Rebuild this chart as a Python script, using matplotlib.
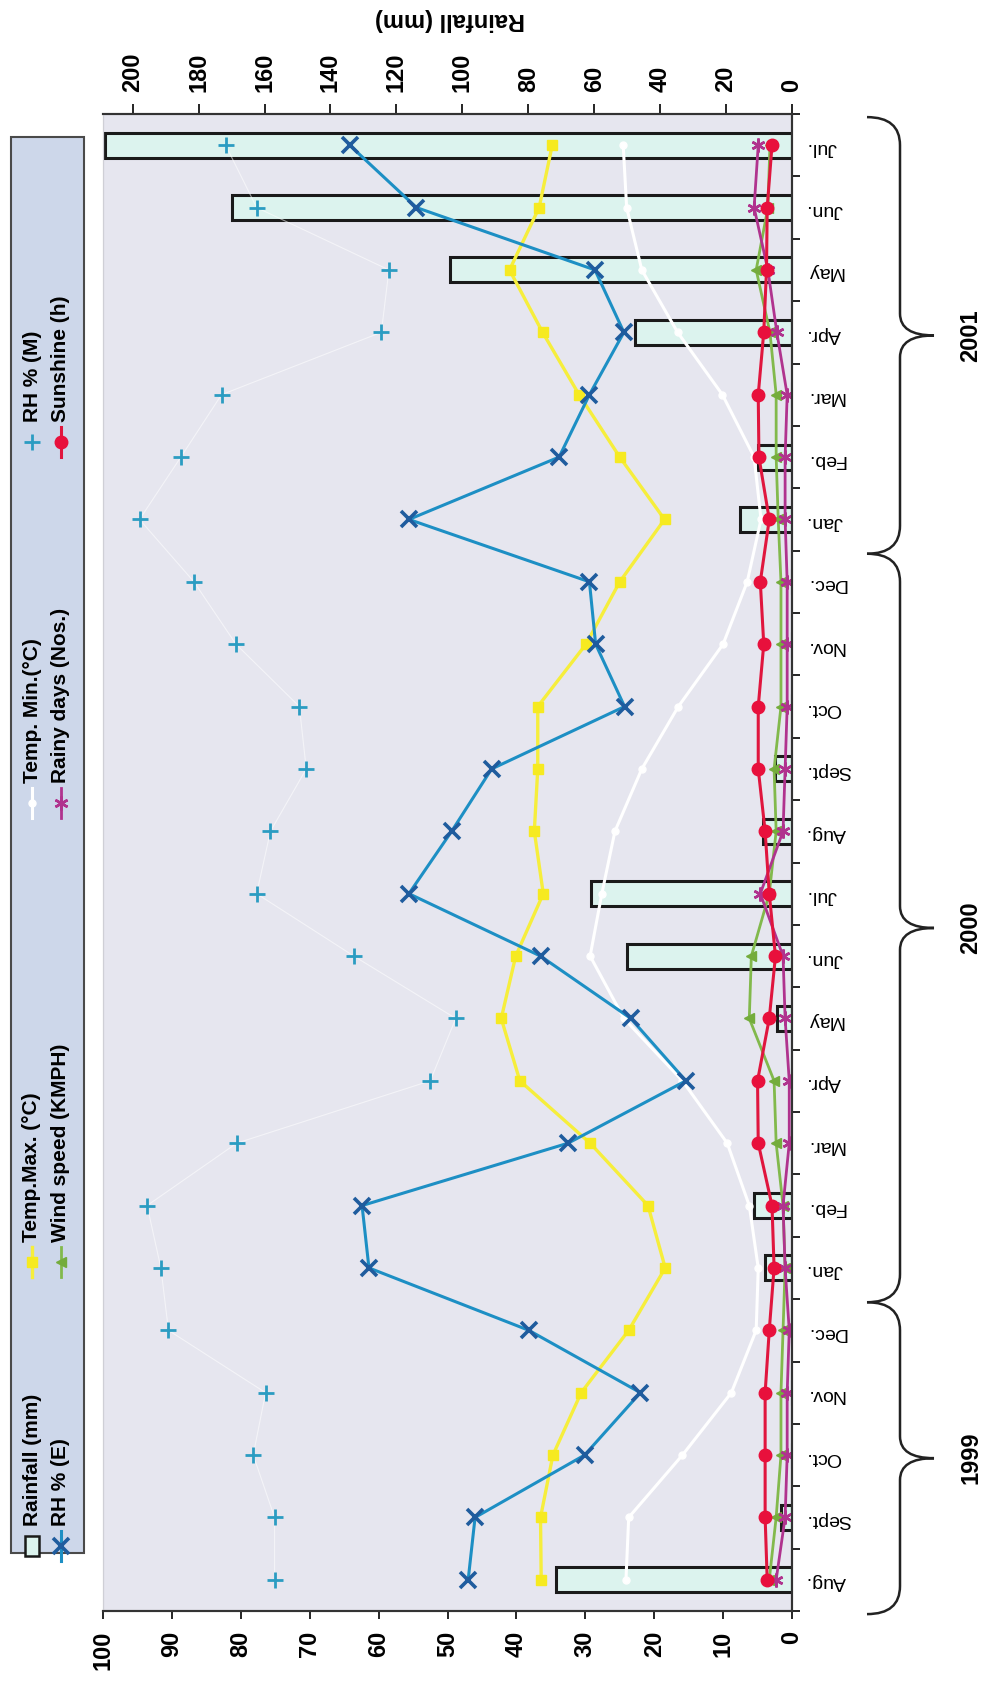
import matplotlib
matplotlib.use('Agg')
import matplotlib.pyplot as plt
import matplotlib.transforms as mtransforms
from matplotlib.path import Path
from matplotlib.patches import PathPatch, Rectangle
import numpy as np

plt.rcParams['font.family'] = ['Liberation Sans', 'DejaVu Sans']

# months Aug 1999 .. Jul 2001
months = ['Aug.', 'Sept.', 'Oct.', 'Nov.', 'Dec.',
          'Jan.', 'Feb.', 'Mar.', 'Apr.', 'May', 'Jun.', 'Jul.',
          'Aug.', 'Sept.', 'Oct.', 'Nov.', 'Dec.',
          'Jan.', 'Feb.', 'Mar.', 'Apr.', 'May', 'Jun.', 'Jul.']
years = ['1999', '2000', '2001']
year_first = [0, 5, 17]
year_last = [4, 16, 23]

rainfall = [71.7, 3.4, 0, 0, 0, 8.2, 11.4, 0, 0, 4.4, 49.9, 61.0,
            8.9, 5.1, 0, 0, 0, 15.7, 10.3, 0, 47.5, 103.8, 170.0, 208.5]
rh_e = [47.0, 46.0, 30.1, 22.0, 38.2, 61.4, 62.4, 32.5, 15.4, 23.4, 36.5, 55.6,
        49.4, 43.6, 24.3, 28.5, 29.4, 55.6, 33.8, 29.4, 24.4, 28.6, 54.5, 64.2]
rh_m = [75.1, 75.1, 78.2, 76.4, 90.5, 91.6, 93.6, 80.6, 52.5, 48.8, 63.6, 77.7,
        75.7, 70.5, 71.5, 80.7, 86.8, 94.7, 88.7, 82.8, 59.6, 58.5, 77.7, 82.2]
temp_max = [36.4, 36.5, 34.7, 30.6, 23.7, 18.4, 20.9, 29.3, 39.5, 42.2, 40.1, 36.1,
            37.4, 36.9, 36.9, 29.9, 25.0, 18.5, 25.0, 30.9, 36.2, 41.0, 36.7, 34.8]
temp_min = [24.1, 23.7, 15.9, 8.8, 5.2, 4.9, 6.2, 9.4, 15.9, 24.4, 29.3, 27.6,
            25.7, 21.8, 16.5, 10.0, 6.5, 4.5, 5.5, 10.1, 16.6, 21.8, 24.0, 24.5]
wind = [3.3, 2.3, 1.6, 1.6, 1.3, 1.0, 1.3, 2.3, 2.6, 6.2, 5.9, 3.3,
        2.3, 2.6, 1.6, 1.6, 1.6, 2.0, 2.3, 2.3, 3.2, 5.2, 3.5, 3.2]
rainy_days = [2.3, 1.0, 0.7, 0.7, 0.4, 1.0, 1.3, 0.4, 0.4, 1.0, 1.3, 4.6,
              1.3, 1.0, 0.7, 0.7, 0.7, 1.0, 1.0, 0.7, 2.2, 3.5, 5.5, 4.9]
sunshine = [3.6, 3.9, 3.9, 3.9, 3.3, 2.6, 2.9, 4.9, 5.0, 3.3, 2.4, 3.3,
            3.9, 4.9, 4.9, 4.1, 4.6, 3.3, 4.8, 4.9, 4.1, 3.7, 3.6, 2.9]

# line series styles (drawn on the 0-100 axis)
series = [
    ('Temp. Min.(°C)', temp_min, dict(color='white', lw=2.2, marker='o', ms=5, mfc='white', mec='white')),
    ('RH % (M)', rh_m, dict(color='white', lw=0.8, marker='+', ms=11, mew=2, mec='#2b9cc2')),
    ('Temp.Max. (°C)', temp_max, dict(color='#f6ee3c', lw=2.4, marker='s', ms=7, mfc='#f6ea20', mec='#f6ea20')),
    ('RH % (E)', rh_e, dict(color='#1d8fc4', lw=2.2, marker='x', ms=11, mew=2.6, mec='#1f5c9e')),
    ('Wind speed (KMPH)', wind, dict(color='#82b94c', lw=2, marker='<', ms=7, mfc='#74ac3c', mec='#74ac3c')),
    ('Rainy days (Nos.)', rainy_days, dict(color='#b0338e', lw=2, marker=(6, 2, 0), ms=10, mew=1.8, mec='#b0338e')),
    ('Sunshine (h)', sunshine, dict(color='#e0163e', lw=2.2, marker='o', ms=9, mfc='#e8103c', mec='#e8103c')),
]
style = {name: st for name, _, st in series}

W, H = 994, 1684
fig = plt.figure(figsize=(W / 100, H / 100), dpi=100)
ax = fig.add_axes([103 / W, 1 - 1611 / H, 689 / W, 1497 / H])
ax.set_facecolor('#e6e6ef')

pos = np.arange(len(months))
bar_fc = '#dcf3ee'
ax.barh(pos, rainfall, height=0.4, color=bar_fc, edgecolor='#1a1a1a', linewidth=2.2)
ax.set_xlim(209, 0)
ax.set_ylim(-0.5, len(months) - 0.5)

# 0-100 axis (twin) - created first so tick positions can be set afterwards
ax2 = ax.twiny()
ax2.patch.set_visible(False)
ax2.set_xlim(100, 0)

# rainfall axis on top
ax.xaxis.set_ticks_position('top')
ax.xaxis.set_label_position('top')
ax.set_xticks(range(0, 201, 20))
ax.tick_params(axis='x', direction='out', length=7, width=1.2, pad=9, labelsize=17, labelrotation=90)
for t in ax.get_xticklabels():
    t.set_fontweight('bold')

# 0-100 axis at the bottom
ax2.xaxis.set_ticks_position('bottom')
ax2.xaxis.set_label_position('bottom')
ax2.set_xticks(range(0, 101, 10))
ax2.tick_params(axis='x', direction='out', length=6, width=1.2, pad=8, labelsize=17, labelrotation=90)
for t in ax2.get_xticklabels():
    t.set_fontweight('bold')

# month labels on the right
ax.yaxis.tick_right()
ax.set_yticks(pos)
ax.set_yticklabels(months, rotation=180, fontsize=14)
ax.set_yticks(np.arange(-0.5, len(months), 1.0), minor=True)
ax.tick_params(axis='y', which='major', length=0, pad=10)
ax.tick_params(axis='y', which='minor', length=6, width=1.2, direction='out')

for a in (ax, ax2):
    for side in ['top', 'bottom', 'right']:
        a.spines[side].set_color('#333333')
        a.spines[side].set_linewidth(1.5)
    a.spines['left'].set_color('#cfcfd6')

for name, vals, st in series:
    if name == 'RH % (M)':
        ax2.plot(vals, pos, color='white', lw=0.8, alpha=0.55)
        ax2.plot(vals, pos, ls='none', marker='+', ms=st['ms'], mew=st['mew'], mec=st['mec'])
    else:
        ax2.plot(vals, pos, **st)

# overlay for legend, braces and titles (pixel coordinates)
ov = fig.add_axes([0, 0, 1, 1])
ov.set_xlim(0, W)
ov.set_ylim(H, 0)
ov.axis('off')
ov.patch.set_visible(False)

ov.text(450, 20, 'Rainfall (mm)', rotation=180, ha='center', va='center',
        fontsize=17, fontweight='bold')

# legend
ov.add_patch(Rectangle((11, 137), 73, 1416, fc='#cdd7ea', ec='#4a4a4a', lw=1.5))
legend_cols = [
    (32, ['Rainfall (mm)', 'Temp.Max. (°C)', 'Temp. Min.(°C)', 'RH % (M)']),
    (61, ['RH % (E)', 'Wind speed (KMPH)', 'Rainy days (Nos.)', 'Sunshine (h)']),
]
legend_y = [1546, 1262, 803, 442]
for x, names in legend_cols:
    for y, name in zip(legend_y, names):
        if name == 'Rainfall (mm)':
            ov.add_patch(Rectangle((x - 7, y - 10), 14, 20, fc=bar_fc, ec='#1a1a1a', lw=1.8))
        else:
            st = dict(style[name])
            if name == 'RH % (M)':
                ov.plot([x], [y], ls='none', marker='+', ms=st['ms'], mew=st['mew'], mec=st['mec'])
            else:
                ov.plot([x, x], [y - 15, y + 15], color=st['color'], lw=st['lw'])
                st.pop('lw')
                ov.plot([x], [y], ls='none', **st)
        ov.text(x, y - 20, name, rotation=90, ha='center', va='bottom',
                fontsize=15, fontweight='bold')

# year braces
trans = mtransforms.blended_transform_factory(ov.transData, ax.transData)
for yr, i0, i1 in zip(years, year_first, year_last):
    y0, y1 = i0 - 0.55, i1 + 0.45
    ym = (y0 + y1) / 2
    xt, xs, xm = 867, 900, 934
    verts = [(xt, y0), (xs, y0), (xs, y0 + 0.45), (xs, ym - 0.35), (xs, ym), (xm, ym),
             (xs, ym), (xs, ym + 0.35), (xs, y1 - 0.45), (xs, y1), (xt, y1)]
    codes = [Path.MOVETO, Path.CURVE3, Path.CURVE3, Path.LINETO, Path.CURVE3, Path.CURVE3,
             Path.CURVE3, Path.CURVE3, Path.LINETO, Path.CURVE3, Path.CURVE3]
    ov.add_patch(PathPatch(Path(verts, codes), transform=trans, fc='none', ec='#222222', lw=1.8))
    ov.text(971, ym, yr, transform=trans, rotation=90, ha='center', va='center',
            fontsize=17, fontweight='bold')

fig.savefig('out.png', dpi=100)
